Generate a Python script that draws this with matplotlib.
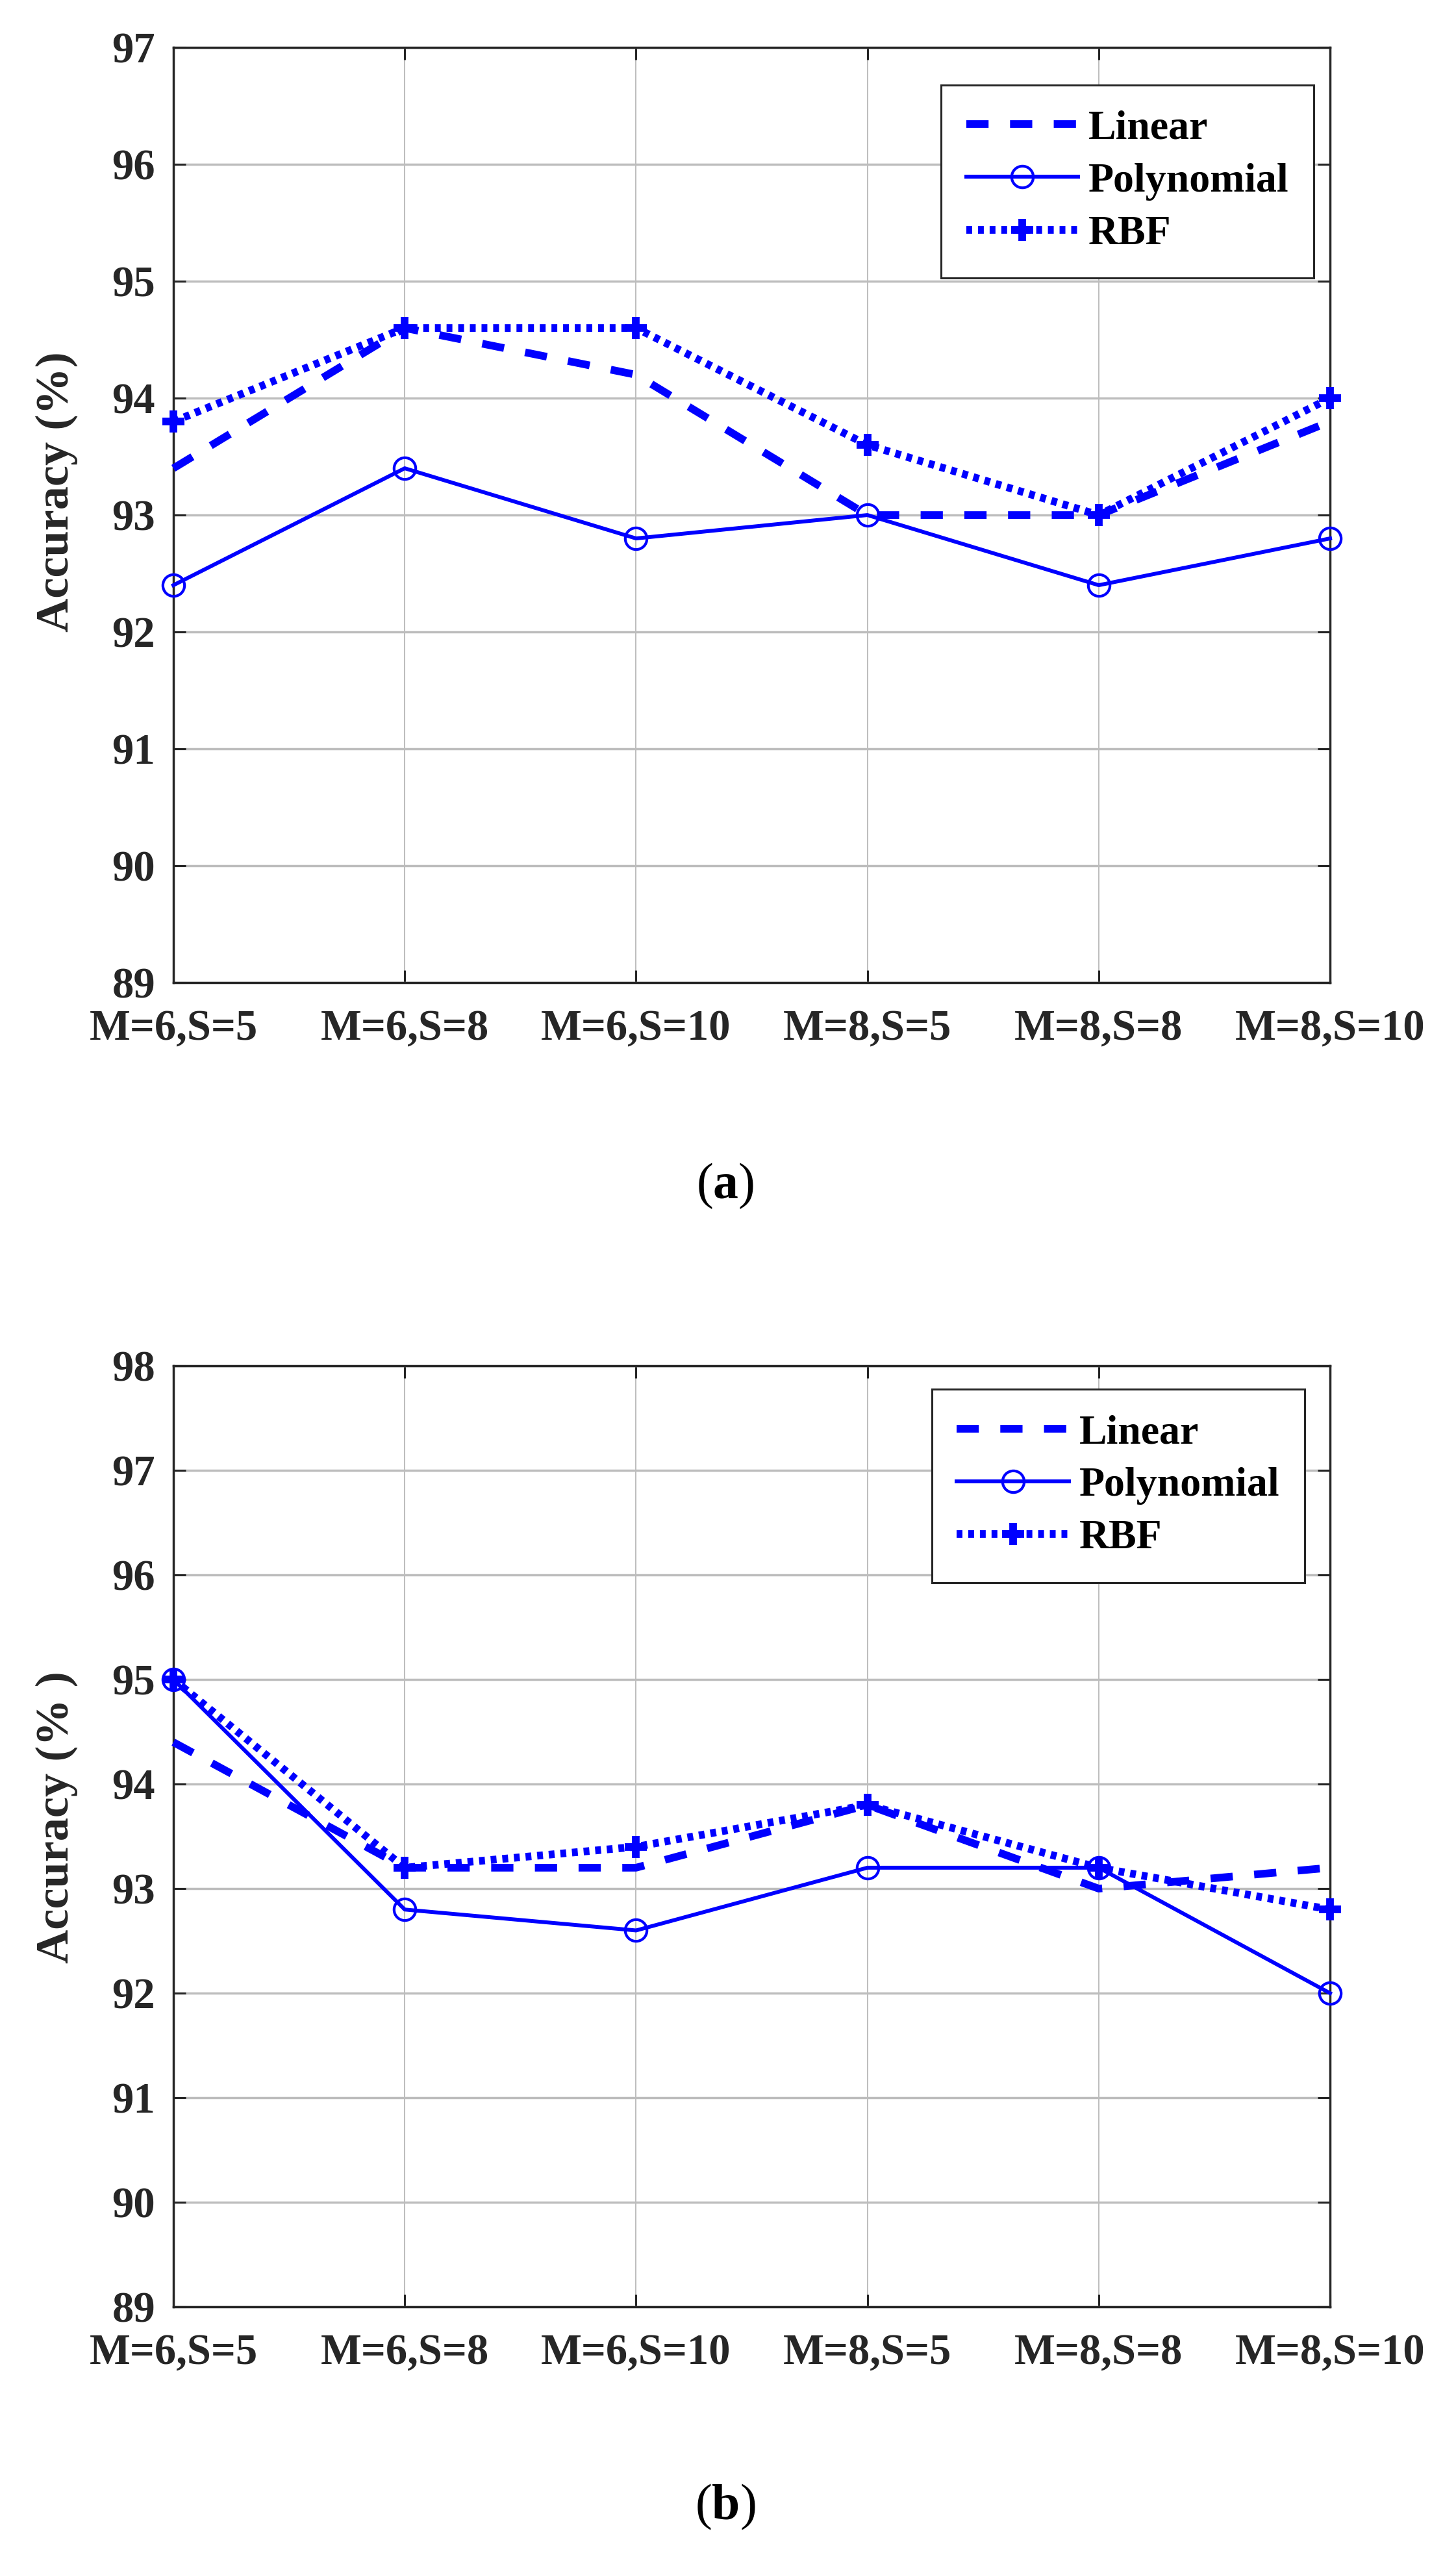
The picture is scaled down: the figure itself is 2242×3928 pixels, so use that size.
"""Two-panel SVM kernel accuracy comparison, MATLAB-like styling."""

import matplotlib

matplotlib.use("Agg")

import matplotlib.pyplot as plt  # noqa: E402

configs = ["M=6,S=5", "M=6,S=8", "M=6,S=10", "M=8,S=5", "M=8,S=8", "M=8,S=10"]
series_names = ["Linear", "Polynomial", "RBF"]

# panel (a)
linear_a = [93.4, 94.6, 94.2, 93.0, 93.0, 93.8]
poly_a = [92.4, 93.4, 92.8, 93.0, 92.4, 92.8]
rbf_a = [93.8, 94.6, 94.6, 93.6, 93.0, 94.0]
yticks_a = [89, 90, 91, 92, 93, 94, 95, 96, 97]

# panel (b)
linear_b = [94.4, 93.2, 93.2, 93.8, 93.0, 93.2]
poly_b = [95.0, 92.8, 92.6, 93.2, 93.2, 92.0]
rbf_b = [95.0, 93.2, 93.4, 93.8, 93.2, 92.8]
yticks_b = [89, 90, 91, 92, 93, 94, 95, 96, 97, 98]

plt.rcParams["font.family"] = ["Liberation Serif", "DejaVu Serif"]
plt.rcParams["font.weight"] = "bold"
plt.rcParams["axes.labelweight"] = "bold"
plt.rcParams["mathtext.fontset"] = "custom"
plt.rcParams["mathtext.rm"] = "Liberation Serif"
plt.rcParams["mathtext.bf"] = "Liberation Serif:bold"

BLUE = "#0000ff"
INK = "#262626"
GRID = "#bdbdbd"


def draw_panel(ax, linear, poly, rbf, yticks, ylabel, legend_anchor, label_y):
    x = list(range(1, len(configs) + 1))
    ax.plot(x, linear, color=BLUE, lw=8.5, linestyle=(0, (2.9, 2.8)),
            label=series_names[0], clip_on=False, zorder=3)
    ax.plot(x, poly, color=BLUE, lw=4.3, marker="o", ms=24, mfc="none",
            mew=3.0, label=series_names[1], clip_on=False, zorder=4)
    ax.plot(x, rbf, color=BLUE, lw=8.5, linestyle=(0, (0.76, 0.76)),
            marker="+", ms=24, mew=8.5, label=series_names[2],
            clip_on=False, zorder=5)

    ax.set_xlim(1, len(configs))
    ax.set_ylim(yticks[0], yticks[-1])
    ax.set_xticks(x)
    ax.set_xticklabels(configs)
    ax.set_yticks(yticks)

    ax.set_axisbelow(True)
    ax.xaxis.grid(True, color=GRID, lw=1.4)
    ax.yaxis.grid(True, color=GRID, lw=2.5)

    ax.tick_params(direction="in", length=13.5, width=2.2, top=True,
                   right=True, colors=INK, labelsize=48)
    ax.tick_params(axis="x", pad=30)
    ax.tick_params(axis="y", pad=20)
    for spine in ax.spines.values():
        spine.set_linewidth(2.5)
        spine.set_color(INK)

    ax.set_ylabel(ylabel, fontsize=52, fontweight="bold", color=INK)
    ax.yaxis.set_label_coords(-0.0825, label_y)

    leg = ax.legend(loc="upper right", bbox_to_anchor=legend_anchor,
                    prop={"size": 46, "weight": "bold"}, frameon=True,
                    fancybox=False, edgecolor=INK, framealpha=1,
                    handlelength=2.7, handletextpad=0.25, labelspacing=0.35,
                    borderpad=0.6, borderaxespad=0)
    leg.get_frame().set_linewidth(2.2)


fig = plt.figure(figsize=(22.42, 39.28), dpi=100)
ax_a = fig.add_axes([0.1191, 0.6148, 0.7944, 0.3666])
ax_b = fig.add_axes([0.1191, 0.0957, 0.7944, 0.3689])

draw_panel(ax_a, linear_a, poly_a, rbf_a, yticks_a, "Accuracy (%)",
           (0.986, 0.960), 0.525)
draw_panel(ax_b, linear_b, poly_b, rbf_b, yticks_b, "Accuracy (% )",
           (0.978, 0.975), 0.52)

fig.text(0.498, 0.535, r"($\mathbf{a}$)", fontsize=56, fontweight="normal",
         ha="center", va="center", color="black")
fig.text(0.498, 0.0173, r"($\mathbf{b}$)", fontsize=56, fontweight="normal",
         ha="center", va="center", color="black")

fig.savefig("out.png", dpi=100)
plt.close(fig)
